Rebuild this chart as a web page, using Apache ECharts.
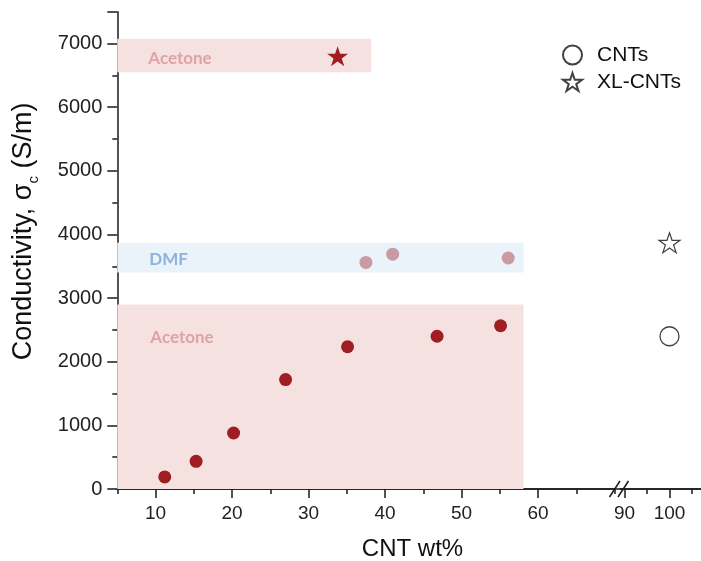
<!DOCTYPE html>
<html>
<head>
<meta charset="utf-8">
<script src="https://cdn.jsdelivr.net/npm/echarts@6/dist/echarts.min.js"></script>
<style>
html,body{margin:0;padding:0;background:#fff;}
#chart{width:701px;height:561px;}
</style>
</head>
<body>
<div id="chart"></div>
<script>
// ---- data ----
const acetoneX = [11.2, 15.3, 20.2, 27.0, 35.1, 46.8, 55.1];
const acetoneY = [190, 435, 880, 1720, 2235, 2400, 2565];
const dmfX = [37.5, 41.0, 56.1];
const dmfY = [3560, 3690, 3630];
const xlAcetoneX = [33.8];
const xlAcetoneY = [6800];
const cntX = [100];
const cntY = [2400];
const xlCntX = [100];
const xlCntY = [3870];
// bands: [xStart, xEnd, yStart, yEnd]
const acetoneLowBand = [5, 58.1, 0, 2900];
const acetoneHighBand = [5, 38.2, 6550, 7075];
const dmfBand = [5, 58.1, 3400, 3870];
// axis ranges / tick labels
const xMainRange = [5, 70];
const xMainLabelRange = [10, 60];
const xBreakRange = [89, 107];
const xBreakLabelRange = [90, 100];
const xBreakMinorRange = [90, 105];
const yRange = [0, 7500];
const yLabelMax = 7000;

const FONT = '"Liberation Sans", Arial, sans-serif';
const BAND_FONT = 'Lato, "Open Sans", sans-serif';
const STAR = 'path://M50,0 L61.8,35.1 L98.9,35.1 L69.1,57.3 L80.9,92.7 L50,70.8 L19.1,92.7 L30.9,57.3 L1.1,35.1 L38.2,35.1 Z';
const zip = (xs, ys) => xs.map((x, i) => [x, ys[i]]);
const band = (b, name, color, labelColor, pos) => [
  { name: name, xAxis: b[0], yAxis: b[2], itemStyle: { color: color, opacity: 1 },
    label: { show: true, position: pos, align: 'left', verticalAlign: 'middle',
      color: labelColor, fontFamily: BAND_FONT, fontWeight: 'bold', fontSize: 17 } },
  { xAxis: b[1], yAxis: b[3] }
];

// layout (pixels)
const gTop = 11.7, gH = 477.3;
const g0Left = 117.3, pxPerUnit0 = 7.65;
const g1Left = 620, pxPerUnit1 = (701 - 620) / (xBreakRange[1] - xBreakRange[0]);
const px0 = v => g0Left + (v - xMainRange[0]) * pxPerUnit0;
const px1 = v => g1Left + (v - xBreakRange[0]) * pxPerUnit1;
const axisLineStyle = { color: '#1a1a1a', width: 1.5 };
const labelStyle = { fontFamily: FONT, fontSize: 19, color: '#222', margin: 15 };
const hiddenY = gi => ({ gridIndex: gi, type: 'value', min: 0, max: 1, show: false });
const tickOnlyX = (gi, min, max, interval, len, withLabels) => ({
  gridIndex: gi, type: 'value', min: min, max: max, interval: interval, position: 'bottom',
  axisLine: { show: false },
  axisTick: { show: true, length: len, lineStyle: axisLineStyle },
  axisLabel: withLabels ? labelStyle : { show: false },
  splitLine: { show: false }
});

const chart = echarts.init(document.getElementById('chart'));
chart.setOption({
  animation: false,
  backgroundColor: '#fff',
  grid: [
    { left: g0Left, top: gTop, width: px0(xMainRange[1]) - g0Left, height: gH },
    { left: g1Left, top: gTop, right: 0, height: gH },
    { left: g0Left, top: gTop, right: 0, height: gH },
    { left: px0(xMainLabelRange[0]), top: gTop, width: px0(xMainLabelRange[1]) - px0(xMainLabelRange[0]), height: gH },
    { left: px1(xBreakLabelRange[0]), top: gTop, width: px1(xBreakLabelRange[1]) - px1(xBreakLabelRange[0]), height: gH },
    { left: px1(xBreakMinorRange[0]), top: gTop, width: px1(xBreakMinorRange[1]) - px1(xBreakMinorRange[0]), height: gH }
  ],
  xAxis: [
    { gridIndex: 0, type: 'value', min: xMainRange[0], max: xMainRange[1], interval: 5, position: 'bottom',
      axisLine: { show: true, lineStyle: axisLineStyle },
      axisTick: { show: true, length: 5, lineStyle: axisLineStyle },
      axisLabel: Object.assign({}, labelStyle, {
        formatter: v => (v % 10 === 0 && v >= xMainLabelRange[0] && v <= xMainLabelRange[1]) ? String(v) : '' }),
      splitLine: { show: false } },
    { gridIndex: 1, type: 'value', min: xBreakRange[0], max: xBreakRange[1], position: 'bottom',
      axisLine: { show: true, lineStyle: axisLineStyle },
      axisTick: { show: false }, axisLabel: { show: false }, splitLine: { show: false } },
    { gridIndex: 2, type: 'value', min: 0, max: 1, position: 'top',
      axisLine: { show: true, lineStyle: axisLineStyle },
      axisTick: { show: false }, axisLabel: { show: false }, splitLine: { show: false } },
    tickOnlyX(3, xMainLabelRange[0], xMainLabelRange[1], 10, 9, false),
    tickOnlyX(4, xBreakLabelRange[0], xBreakLabelRange[1], 10, 9, true),
    tickOnlyX(5, xBreakMinorRange[0], xBreakMinorRange[1], 5, 5, false)
  ],
  yAxis: [
    { gridIndex: 0, type: 'value', min: yRange[0], max: yRange[1], interval: 1000, position: 'left',
      axisLine: { show: true, lineStyle: axisLineStyle },
      axisTick: { show: true, length: 10, lineStyle: axisLineStyle },
      axisLabel: { fontFamily: FONT, fontSize: 20, color: '#222', margin: 15,
        formatter: v => v <= yLabelMax ? String(v) : '' },
      splitLine: { show: false },
      name: '{a|Conductivity, σ}{s|c}{a| (S/m)}',
      nameLocation: 'middle', nameRotate: 90, nameGap: 76,
      nameTextStyle: { padding: [0, 0, 0, 38], rich: {
        a: { fontFamily: FONT, fontSize: 27, color: '#111', lineHeight: 36, verticalAlign: 'middle' },
        s: { fontFamily: FONT, fontSize: 15, color: '#111', lineHeight: 15, verticalAlign: 'bottom' }
      } } },
    { gridIndex: 0, type: 'value', min: yRange[0], max: yRange[1], interval: 500, position: 'left',
      axisLine: { show: false },
      axisTick: { show: true, length: 5, lineStyle: axisLineStyle },
      axisLabel: { show: false }, splitLine: { show: false } },
    { gridIndex: 1, type: 'value', min: yRange[0], max: yRange[1], show: false },
    hiddenY(2), hiddenY(3), hiddenY(4), hiddenY(5)
  ],
  legend: {
    data: ['CNTs', 'XL-CNTs'],
    orient: 'vertical', left: 562, top: 44.5, padding: 0,
    itemWidth: 19, itemHeight: 19, itemGap: 6,
    textStyle: { fontFamily: FONT, fontSize: 21, color: '#111', lineHeight: 21, padding: [0, 0, 0, 10] }
  },
  series: [
    { name: 'Acetone', type: 'scatter', xAxisIndex: 0, yAxisIndex: 0,
      symbol: 'circle', symbolSize: 13, itemStyle: { color: '#A01D23', opacity: 1 },
      data: zip(acetoneX, acetoneY), z: 3,
      markArea: { silent: true, z: 1, data: [
        band(acetoneLowBand, 'Acetone', '#F6E1E1', '#DDA3A7', [33, 33]),
        band(acetoneHighBand, 'Acetone', '#F6E1E1', '#DDA3A7', [31, 20])
      ] } },
    { name: 'DMF', type: 'scatter', xAxisIndex: 0, yAxisIndex: 0,
      symbol: 'circle', symbolSize: 13, itemStyle: { color: '#C99AA2', opacity: 1 },
      data: zip(dmfX, dmfY), z: 3,
      markArea: { silent: true, z: 1, data: [
        band(dmfBand, 'DMF', '#EAF2FA', '#8FB1DF', [32, 16.5])
      ] } },
    { name: 'XL Acetone', type: 'scatter', xAxisIndex: 0, yAxisIndex: 0,
      symbol: STAR, symbolSize: 21, symbolKeepAspect: true,
      itemStyle: { color: '#A01D23', opacity: 1 },
      data: zip(xlAcetoneX, xlAcetoneY), z: 3 },
    { name: 'CNTs', type: 'scatter', xAxisIndex: 1, yAxisIndex: 2,
      symbol: 'circle', symbolSize: 19,
      itemStyle: { color: '#fff', borderColor: '#111', borderWidth: 1.3 },
      data: zip(cntX, cntY), z: 3 },
    { name: 'XL-CNTs', type: 'scatter', xAxisIndex: 1, yAxisIndex: 2,
      symbol: STAR, symbolSize: 21, symbolKeepAspect: true,
      itemStyle: { color: '#fff', borderColor: '#111', borderWidth: 1.2 },
      data: zip(xlCntX, xlCntY), z: 3 }
  ],
  graphic: [
    { type: 'line', shape: { x1: 609.5, y1: 497, x2: 620, y2: 481 },
      style: { stroke: '#1a1a1a', lineWidth: 1.5 }, z: 10 },
    { type: 'line', shape: { x1: 618, y1: 497, x2: 628.5, y2: 481 },
      style: { stroke: '#1a1a1a', lineWidth: 1.5 }, z: 10 },
    { type: 'text', x: 412.5, y: 549.3,
      style: { text: 'CNT wt%', fontFamily: FONT, fontSize: 24, fill: '#111',
        textAlign: 'center', textVerticalAlign: 'middle' } }
  ]
});
</script>
</body>
</html>
